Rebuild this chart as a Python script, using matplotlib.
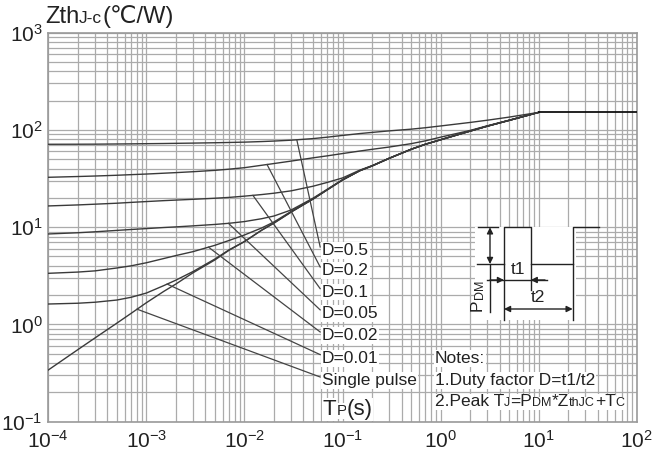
import numpy as np
import matplotlib
matplotlib.use('Agg')
import matplotlib.pyplot as plt
from matplotlib.patches import Rectangle
from matplotlib.ticker import FixedLocator, NullFormatter, LogLocator

plt.rcParams['font.family'] = ['Liberation Sans', 'DejaVu Sans']
plt.rcParams['mathtext.fontset'] = 'custom'
plt.rcParams['mathtext.rm'] = 'Liberation Sans'
plt.rcParams['mathtext.it'] = 'Liberation Sans:italic'
plt.rcParams['mathtext.bf'] = 'Liberation Sans:bold'

INK = '#222222'
CURVE = '#3a3a3a'

# pulse width (s)
tp = [1e-4, 2e-4, 3e-4, 5e-4, 7e-4, 1e-3, 1.5e-3, 2e-3, 3e-3, 5e-3, 7e-3,
      1e-2, 1.5e-2, 2e-2, 3e-2, 5e-2, 7e-2, 0.1, 0.15, 0.2, 0.3, 0.5, 0.7,
      1, 2, 3, 5, 10]

# transient thermal impedance Zth(j-c) in C/W for each duty factor
z_d05 = [71, 71.1, 71.2, 71.5, 71.7, 72, 72.3, 72.6, 73, 73.6, 74.1,
         74.7, 75.7, 76.6, 78.2, 81.2, 84, 87.5, 91.5, 94, 97.5, 101.5, 105,
         109.5, 119, 125.5, 135, 151]
z_d02 = [32.5, 33.1, 33.5, 34.1, 34.6, 35.1, 35.8, 36.3, 37.1, 38.3, 39.4,
         40.8, 43.2, 45, 47.7, 51.5, 54, 57, 60.5, 63, 66.5, 72, 77,
         84, 98.5, 110, 125.5, 151]
z_d01 = [16.5, 16.9, 17.2, 17.6, 17.95, 18.3, 18.7, 18.95, 19.3, 19.8, 20.2,
         20.8, 21.6, 22.3, 23.6, 26.3, 28.8, 32, 38.5, 42.8, 51, 63, 71,
         79, 97, 109, 125, 151]
z_d005 = [8.5, 8.75, 8.95, 9.25, 9.45, 9.65, 9.9, 10.05, 10.3, 10.65, 10.95,
          11.4, 12.2, 13.0, 15.0, 19.8, 24.5, 30.7, 38, 42.5, 51, 63, 71,
          79, 97, 109, 125, 151]
z_d002 = [3.35, 3.45, 3.55, 3.8, 4.0, 4.3, 4.75, 5.1, 5.6, 6.5, 7.3,
          8.3, 9.8, 11.3, 14.5, 19.5, 24.2, 30.5, 38, 42.5, 51, 63, 71,
          79, 97, 109, 125, 151]
z_d001 = [1.62, 1.65, 1.69, 1.78, 1.9, 2.1, 2.5, 2.85, 3.5, 4.7, 5.85,
          7.1, 9.3, 11.0, 14.3, 19.4, 24.2, 30.5, 38, 42.5, 51, 63, 71,
          79, 97, 109, 125, 151]
z_single = [0.34, 0.55, 0.727, 1.03, 1.30, 1.67, 2.18, 2.6, 3.4, 4.6, 5.8,
            7.1, 9.3, 11.0, 14.3, 19.4, 24.2, 30.5, 38, 42.5, 51, 63, 71,
            79, 97, 109, 125, 151]

rth = 151          # steady state value, reached at 10 s
t_end = 100

curve_names = ['D=0.5', 'D=0.2', 'D=0.1', 'D=0.05', 'D=0.02', 'D=0.01', 'Single pulse']
curves = [z_d05, z_d02, z_d01, z_d005, z_d002, z_d001, z_single]

# where each leader line leaves its curve
leader_t = [0.0342, 0.0170, 0.0122, 0.00687, 0.00430, 0.00163, 0.000804]

# label column
label_t = 0.0617
label_z = [5.17, 3.22, 1.93, 1.16, 0.692, 0.404, 0.238]
leader_end_t = 0.0592
leader_end_z = [6.25, 3.89, 2.33, 1.41, 0.836, 0.489, 0.288]

xticks = [1e-4, 1e-3, 1e-2, 1e-1, 1e0, 1e1, 1e2]
xticklabels = ['$\\mathregular{10^{-4}}$', '$\\mathregular{10^{-3}}$', '$\\mathregular{10^{-2}}$',
               '$\\mathregular{10^{-1}}$', '$\\mathregular{10^{0}}$', '$\\mathregular{10^{1}}$',
               '$\\mathregular{10^{2}}$']
yticks = [1e-1, 1e0, 1e1, 1e2, 1e3]
yticklabels = ['$\\mathregular{10^{-1}}$', '$\\mathregular{10^{0}}$', '$\\mathregular{10^{1}}$',
               '$\\mathregular{10^{2}}$', '$\\mathregular{10^{3}}$']

W, H = 652, 451
fig = plt.figure(figsize=(W / 100, H / 100), dpi=100)
ax = fig.add_axes([48.3 / W, 1 - 421.7 / H, (636.7 - 48.3) / W, (421.7 - 32.5) / H])
ax.set_xscale('log')
ax.set_yscale('log')
ax.set_xlim(1e-4, 1e2)
ax.set_ylim(1e-1, 1e3)

ax.xaxis.set_major_locator(FixedLocator(xticks))
ax.yaxis.set_major_locator(FixedLocator(yticks))
ax.xaxis.set_minor_locator(LogLocator(base=10, subs=range(2, 10), numticks=30))
ax.yaxis.set_minor_locator(LogLocator(base=10, subs=range(2, 10), numticks=30))
ax.xaxis.set_minor_formatter(NullFormatter())
ax.yaxis.set_minor_formatter(NullFormatter())
ax.set_xticklabels(xticklabels)
ax.set_yticklabels(yticklabels, va='center_baseline')
ax.tick_params(which='both', length=0, labelsize=15, labelcolor=INK)
ax.tick_params(axis='x', pad=6)
ax.tick_params(axis='y', pad=4)
ax.grid(True, which='both', color='#ababab', lw=0.9)
ax.set_axisbelow(True)
for sp in ax.spines.values():
    sp.set_color('#9a9a9a')
    sp.set_linewidth(1.2)

for z in curves:
    ax.plot(tp, z, color=CURVE, lw=1.0, zorder=3)
ax.plot([tp[-1], t_end], [rth, rth], color='#111111', lw=1.3, zorder=3)

# leader lines from the curves to the label column
lt = np.log10(tp)
for z, t0, ze in zip(curves, leader_t, leader_end_z):
    z0 = 10 ** np.interp(np.log10(t0), lt, np.log10(z))
    ax.plot([t0, leader_end_t], [z0, ze], color='#444444', lw=0.9, zorder=3)

box = dict(facecolor='white', edgecolor='none', pad=0.6)
for name, zl in zip(curve_names, label_z):
    ax.text(label_t, zl, name, fontsize=12.5, color=INK, ha='left', va='baseline',
            bbox=box, zorder=6)


def text_run(x, y, parts, bbox=None):
    # consecutive text pieces on one baseline, x/y in pixels from top-left
    renderer = fig.canvas.get_renderer()
    for s, size in parts:
        t = fig.text(x / 100, (H - y) / 100, s, fontsize=size, color=INK,
                     ha='left', va='baseline', transform=fig.dpi_scale_trans,
                     bbox=bbox, zorder=6)
        x += t.get_window_extent(renderer).width


text_run(45, 23.5, [('Zth', 17), ('J-c', 12.5), ('(\u2103/W)', 17)])
text_run(322.7, 415, [('T', 16), ('P', 11), ('(s)', 16)], bbox=box)

text_run(435, 363, [('Notes:', 12.5)], bbox=box)
text_run(435, 385, [('1.Duty factor D=t1/t2', 12.5)], bbox=box)
text_run(435, 406.5, [('2.Peak T', 12.5), ('J', 9), ('=P', 12.5), ('DM', 9),
                      ('*Z', 12.5), ('thJC', 9), ('+T', 12.5), ('C', 9)], bbox=box)

# pulse train sketch
ins = fig.add_axes([470 / W, 1 - 322 / H, 132 / W, 100 / H])
ins.set_xlim(470, 602)
ins.set_ylim(322, 222)
ins.axis('off')
ins.add_patch(Rectangle((475, 227), 101, 93, facecolor='white', edgecolor='none', zorder=0))
lk = dict(color=INK, lw=1.0)
ins.plot([478.3, 498.3], [227.3, 227.3], **lk)
ins.plot([476.7, 504], [264, 264], **lk)
ins.plot([504, 504, 530.7, 530.7], [320, 227.3, 227.3, 290], **lk)
ins.plot([530.7, 572.7], [264, 264], **lk)
ins.plot([572.7, 572.7, 599.3], [320, 227.3, 227.3], **lk)
ins.plot([490, 490], [264, 311.7], **lk)
ins.plot([486.7, 547.3], [280, 280], **lk)

ak = dict(color=INK, lw=1.0, shrinkA=0, shrinkB=0, mutation_scale=9)
ins.annotate('', xy=(490, 227.3), xytext=(490, 264), arrowprops=dict(arrowstyle='<|-|>', **ak))
ins.annotate('', xy=(504, 280), xytext=(490, 280), arrowprops=dict(arrowstyle='-|>', **ak))
ins.annotate('', xy=(530.7, 280), xytext=(545, 280), arrowprops=dict(arrowstyle='-|>', **ak))
ins.annotate('', xy=(504, 309), xytext=(572.7, 309), arrowprops=dict(arrowstyle='<|-|>', **ak))

ins.text(518.3, 270, 't1', fontsize=12.5, color=INK, ha='center', va='center')
ins.text(538, 298, 't2', fontsize=12.5, color=INK, ha='center', va='center')
ins.text(477.5, 305, 'P', fontsize=12.5, color=INK, ha='center', va='center', rotation=90)
ins.text(480.5, 289.5, 'DM', fontsize=9, color=INK, ha='center', va='center', rotation=90)

fig.savefig('out.png', dpi=100)
